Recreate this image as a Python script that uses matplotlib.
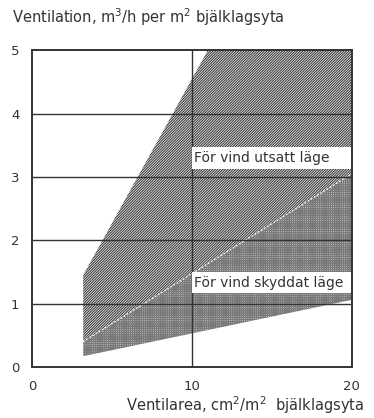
import numpy as np
import matplotlib
matplotlib.use("Agg")
import matplotlib.pyplot as plt

# Region outlines (x: cm2/m2, y: m3/h per m2)
utsatt_x = [3.2, 3.2, 11.0, 20.0, 20.0]
utsatt_y = [0.40, 1.45, 5.0, 5.0, 3.05]
skyddat_x = [3.2, 3.2, 20.0, 20.0]
skyddat_y = [0.17, 0.40, 3.05, 1.06]

x_ticks = [0, 10, 20]
y_ticks = [0, 1, 2, 3, 4, 5]
labels = ["För vind utsatt läge", "För vind skyddat läge"]
label_y = [3.30, 1.33]

ink = "#333333"
plt.rcParams['hatch.linewidth'] = 0.8

fig = plt.figure(figsize=(3.74, 4.18), dpi=100)
ax = fig.add_axes([0.0856, 0.122, 0.855, 0.758])

ax.fill(utsatt_x, utsatt_y, facecolor="white", edgecolor="#3a3a3a", hatch="/" * 13,
        linewidth=0, zorder=1)
ax.fill(skyddat_x, skyddat_y, facecolor="white", edgecolor="#7a7a7a", hatch="+" * 9,
        linewidth=0, zorder=1)
ax.plot(skyddat_x[1:3], skyddat_y[1:3], color="white", linestyle=":", linewidth=1.0, zorder=2)

for yv in y_ticks[1:-1]:
    ax.axhline(yv, color=ink, linewidth=1.0, zorder=3)
ax.axvline(10, color=ink, linewidth=1.0, zorder=3)

# white label strips from the middle grid line to the right edge
for txt, yv in zip(labels, label_y):
    ax.fill_between([10, 20], yv - 0.17, yv + 0.17, color="white", linewidth=0, zorder=4)
    ax.text(10.15, yv, txt, fontsize=10, color=ink, va="center", ha="left", zorder=5)

ax.set_xlim(0, 20)
ax.set_ylim(0, 5)
ax.set_xticks(x_ticks)
ax.set_yticks(y_ticks)
ax.tick_params(length=0, labelsize=9.5, labelcolor=ink, pad=9)
for s in ax.spines.values():
    s.set_color(ink)
    s.set_linewidth(1.4)
    s.set_zorder(6)

fig.text(0.032, 0.958, "Ventilation, m$^3$/h per m$^2$ bjälklagsyta", fontsize=10.5, color=ink,
         ha="left", va="center")
fig.text(0.975, 0.03, "Ventilarea, cm$^2$/m$^2$  bjälklagsyta", fontsize=10.5, color=ink,
         ha="right", va="center")

fig.savefig("out.png", dpi=100)
